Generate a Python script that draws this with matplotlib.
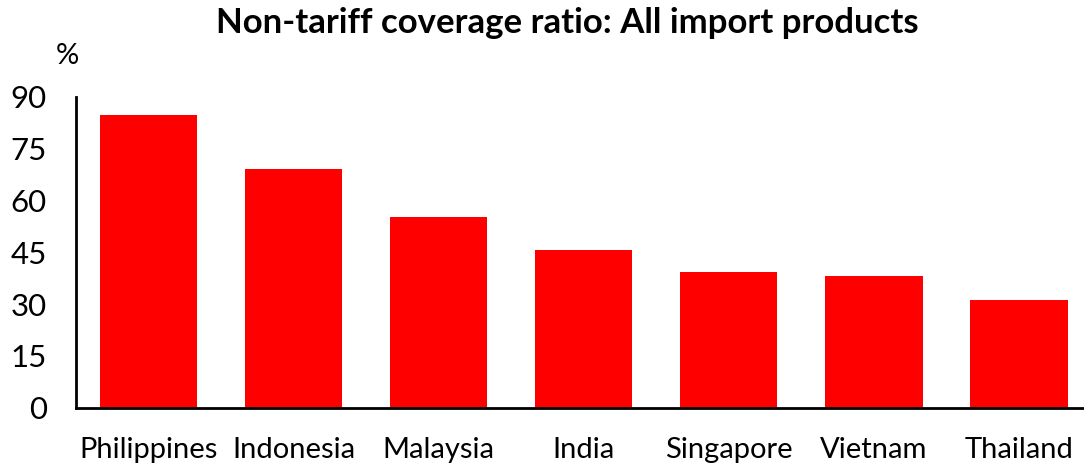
import matplotlib
matplotlib.use("Agg")
import matplotlib.pyplot as plt

countries = ["Philippines", "Indonesia", "Malaysia", "India", "Singapore", "Vietnam", "Thailand"]
coverage = [84.8, 69.0, 55.1, 45.6, 39.3, 38.0, 31.1]
yticks = [0, 15, 30, 45, 60, 75, 90]

plt.rcParams['font.family'] = ['Lato', 'DejaVu Sans']

fig = plt.figure(figsize=(10.84, 4.66), dpi=100)
ax = fig.add_axes([0.0701, 0.125, 0.9299, 0.6675])

x = list(range(len(countries)))
ax.bar(x, coverage, width=0.67, color='#ff0000')

ax.set_xlim(-0.5, 6.448)
ax.set_ylim(0, 90)
ax.set_yticks(yticks)
ax.set_yticklabels([str(v) for v in yticks], fontsize=22.5)
ax.set_xticks(x)
ax.set_xticklabels(countries, fontsize=21)
ax.tick_params(axis='y', length=0, pad=21)
ax.tick_params(axis='x', length=0, pad=21)

for side in ['top', 'right']:
    ax.spines[side].set_visible(False)
for side in ['left', 'bottom']:
    ax.spines[side].set_linewidth(2)
    ax.spines[side].set_color('black')

fig.text(0.062, 0.88, "%", fontsize=21, ha='center', va='center')
fig.text(0.5235, 0.95, "Non-tariff coverage ratio: All import products",
         fontsize=25, fontweight='bold', ha='center', va='center')

fig.savefig("out.png", dpi=100)
